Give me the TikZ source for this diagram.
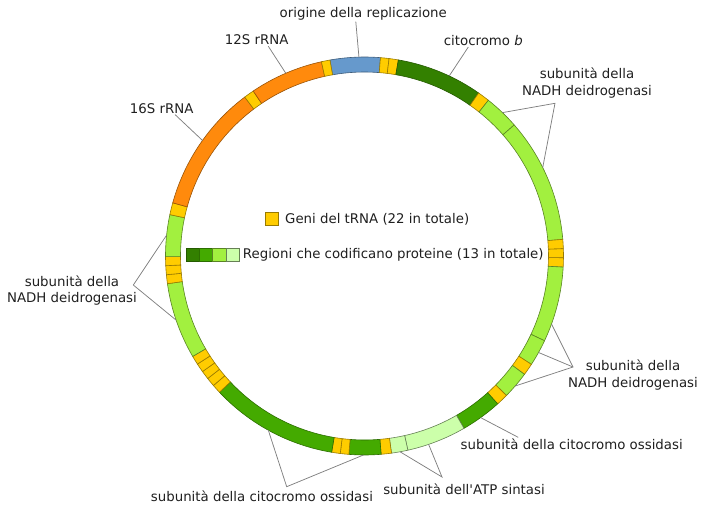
\documentclass[tikz,border=0pt]{standalone}
\usepackage{fontspec}
\setmainfont{DejaVu Sans}
\usepackage{tikz}
\usetikzlibrary{positioning}

\definecolor{trna}{HTML}{FFCC00}
\definecolor{rrna}{HTML}{FF8A0C}
\definecolor{dloop}{HTML}{6699CC}
\definecolor{cytb}{HTML}{338000}
\definecolor{cox}{HTML}{44AA00}
\definecolor{nadh}{HTML}{A2F03F}
\definecolor{atp}{HTML}{CCFFAA}

\begin{document}
\begin{tikzpicture}[x=1pt, y=1pt,
    every node/.style={font=\fontsize{13.33}{16.5}\selectfont, text=black!88, inner sep=1pt},
    gene/.style={line width=0.6pt},
    trnaseg/.style={gene, fill=trna, draw=trna!60!black},
    rrnaseg/.style={gene, fill=rrna, draw=rrna!60!black},
    dloopseg/.style={gene, fill=dloop, draw=dloop!60!black},
    cytbseg/.style={gene, fill=cytb, draw=cytb!70!black},
    coxseg/.style={gene, fill=cox, draw=cox!65!black},
    nadhseg/.style={gene, fill=nadh, draw=nadh!55!black},
    atpseg/.style={gene, fill=atp, draw=atp!50!black},
    leader/.style={draw=black!50, line width=0.75pt},
    keybox/.style={minimum size=13.3pt, inner sep=0pt, outer sep=0pt, line width=0.6pt}]
    \useasboundingbox (-364.5,-256) rectangle (342.5,256);

    % ring, angles clockwise from the top
    \foreach \a/\b/\s in {350/364.6/dloopseg, 4.6/7.1/trnaseg, 7.1/9.8/trnaseg,
        9.8/35/cytbseg, 35/38.5/trnaseg, 38.5/48.8/nadhseg, 48.8/85.2/nadhseg,
        85.2/87.9/trnaseg, 87.9/90.5/trnaseg, 90.5/93.2/trnaseg,
        93.2/115.2/nadhseg, 115.2/123/nadhseg, 123/126.5/trnaseg,
        126.5/134.5/nadhseg, 134.5/138/trnaseg, 138/150/coxseg,
        150/167.4/atpseg, 167.4/172.2/atpseg, 172.2/175.2/trnaseg,
        175.2/184.5/coxseg, 184.5/187/trnaseg, 187/189.5/trnaseg,
        189.5/226.8/coxseg, 226.8/229.4/trnaseg, 229.4/232/trnaseg,
        232/234.5/trnaseg, 234.5/237.1/trnaseg, 237.1/239.7/trnaseg,
        239.7/262/nadhseg, 262/264.6/trnaseg, 264.6/267.2/trnaseg,
        267.2/269.8/trnaseg, 269.8/282/nadhseg, 282/285.5/trnaseg,
        285.5/323/rrnaseg, 323/326/trnaseg, 326/347.5/rrnaseg, 347.5/350/trnaseg}
        \draw[\s] ({90-\a}:199pt) arc[start angle={90-\a}, end angle={90-\b}, radius=199pt]
            -- ({90-\b}:184pt) arc[start angle={90-\b}, end angle={90-\a}, radius=184pt] -- cycle;

    \coordinate (oriP) at (91.6:199pt);
    \coordinate (s12P) at (113.3:199pt);
    \coordinate (cytbP) at (64.8:199pt);
    \coordinate (s16P) at (144.5:199pt);
    \coordinate (nd6P) at (46.1:199pt);
    \coordinate (nd5P) at (26.4:199pt);
    \coordinate (nd4P) at (-20:199pt);
    \coordinate (nd4lP) at (-29:199pt);
    \coordinate (nd3P) at (-40.8:199pt);
    \coordinate (co3P) at (-54.3:199pt);
    \coordinate (atp6P) at (-71.2:199pt);
    \coordinate (atp8P) at (-79.7:199pt);
    \coordinate (co2P) at (-90.3:199pt);
    \coordinate (co1P) at (-118.9:199pt);
    \coordinate (nd2P) at (-161.2:199pt);
    \coordinate (nd1P) at (174:199pt);

    \node (ori) at (-1.2,242) {origine della replicazione};
    \draw[leader] ([xshift=-7.5pt]ori.south) -- (oriP);
    \node (s12) at (-107.8,216) {12S rRNA};
    \draw[leader] ([xshift=11.6pt]s12.south) -- (s12P);
    \node (cytb) at (118.8,215.3) {citocromo \textit{b}};
    \draw[leader] ([xshift=-15pt]cytb.south) -- (cytbP);
    \node (s16) at (-202.8,147.7) {16S rRNA};
    \draw[leader] ([xshift=13.3pt]s16.south) -- (s16P);

    \node[align=center] (nadhA) at (222.5,172.7) {subunità della\\NADH deidrogenasi};
    \coordinate (nadhAtip) at (190.5,152.7);
    \draw[leader] (nd6P) -- (nadhAtip) -- (nd5P);

    \node[align=center] (nadhB) at (268.5,-119) {subunità della\\NADH deidrogenasi};
    \coordinate (nadhBtip) at (208.5,-111);
    \draw[leader] (nd4P) -- (nadhBtip) -- (nd3P);
    \draw[leader] (nd4lP) -- (nadhBtip);

    \node[align=center] (nadhC) at (-292.5,-34.5) {subunità della\\NADH deidrogenasi};
    \coordinate (nadhCtip) at (-231.2,-29);
    \draw[leader] (nd1P) -- (nadhCtip) -- (nd2P);

    \node (coxA) at (207.2,-188) {subunità della citocromo ossidasi};
    \draw[leader] (co3P) -- ([xshift=-53.4pt]coxA.north);

    \node (atpA) at (99.5,-233) {subunità dell\textquotesingle ATP sintasi};
    \coordinate (atpAtip) at (77.5,-221);
    \draw[leader] (atp6P) -- (atpAtip) -- (atp8P);

    \node (coxB) at (-102.5,-240) {subunità della citocromo ossidasi};
    \coordinate (coxBtip) at (-77.8,-230.7);
    \draw[leader] (co1P) -- (coxBtip) -- (co2P);

    % key
    \node[keybox, fill=trna, draw=trna!60!black] (keytrna) at (-92.85,37.1) {};
    \node[anchor=west] (keytrnatxt) at (-80.5,37) {Geni del tRNA (22 in totale)};
    \node[keybox, fill=cytb, draw=cytb!70!black] (keycytb) at (-171.8,1) {};
    \node[keybox, fill=cox, draw=cox!65!black, right=0pt of keycytb] (keycox) {};
    \node[keybox, fill=nadh, draw=nadh!55!black, right=0pt of keycox] (keynadh) {};
    \node[keybox, fill=atp, draw=atp!50!black, right=0pt of keynadh] (keyatp) {};
    \node[anchor=west, right=2.5pt of keyatp] (keyprot) {Regioni che codificano proteine (13 in totale)};
\end{tikzpicture}
\end{document}
